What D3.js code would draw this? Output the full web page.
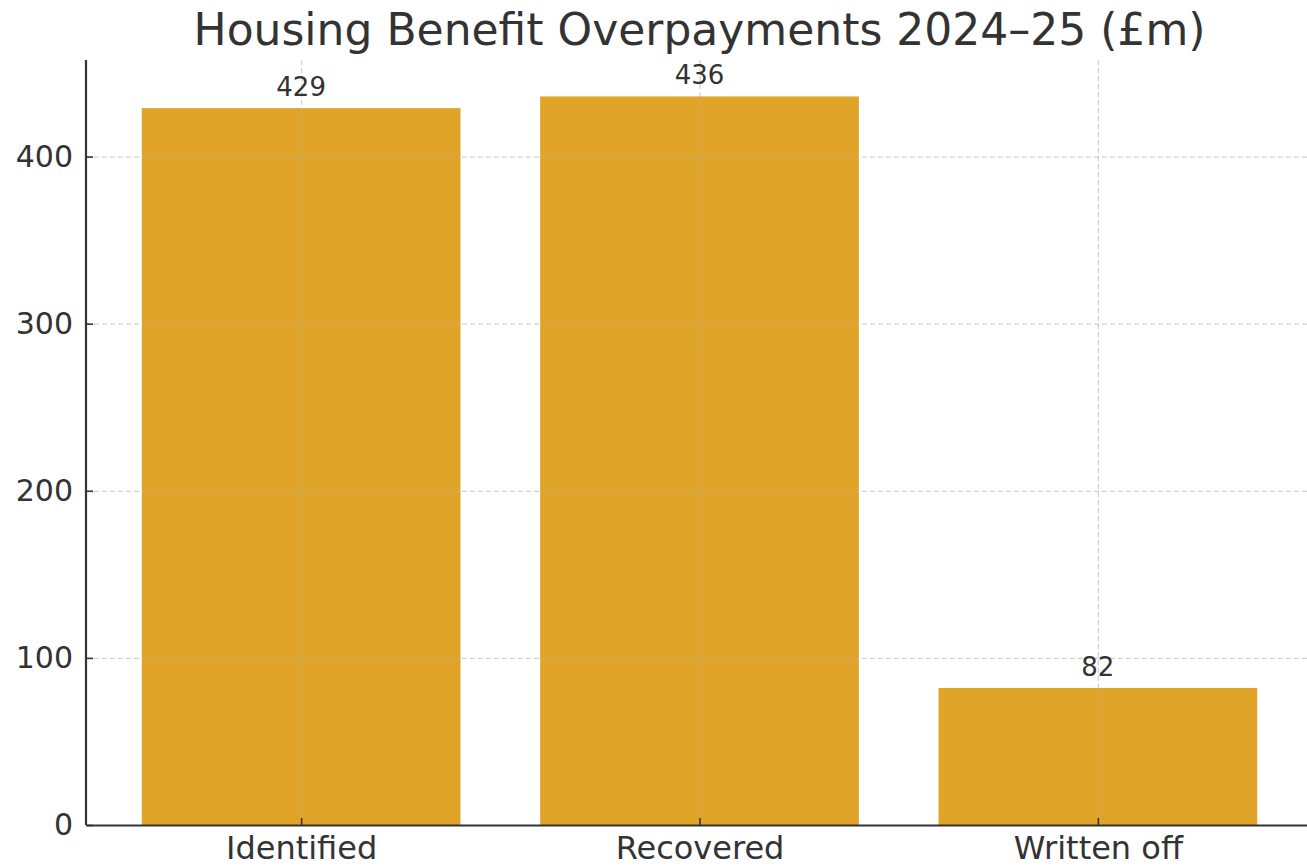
<!DOCTYPE html>
<html>
<head>
<meta charset="utf-8">
<script src="https://cdn.jsdelivr.net/npm/d3@7"></script>
<style>
  body { margin: 0; background: #fff; }
  svg { display: block; font-family: "DejaVu Sans", sans-serif; }
</style>
</head>
<body>
<div id="chart"></div>
<script>
// data
var categories = ["Identified", "Recovered", "Written off"];
var values = [429, 436, 82];
var yTicks = [0, 100, 200, 300, 400];
var title = "Housing Benefit Overpayments 2024\u201325 (\u00a3m)";

var W = 1307, H = 866;
var margin = { top: 60, left: 86, right: -6, bottom: 41 };
var width = W - margin.left - margin.right;   // plot area runs past the right edge
var height = H - margin.top - margin.bottom;

var svg = d3.select("#chart").append("svg")
  .attr("width", W)
  .attr("height", H);

svg.append("text")
  .attr("x", margin.left + width / 2)
  .attr("y", 45)
  .attr("text-anchor", "middle")
  .attr("fill", "#333")
  .style("font-size", "44px")
  .text(title);

var g = svg.append("g")
  .attr("transform", "translate(" + margin.left + "," + margin.top + ")");

// matplotlib-like limits: bars of width 0.8, 5% margins
var xScale = d3.scaleLinear()
  .domain([-0.54, categories.length - 1 + 0.54])
  .range([0, width]);
var yScale = d3.scaleLinear()
  .domain([0, d3.max(values) * 1.05])
  .range([height, 0]);

// bars
g.selectAll("rect.bar")
  .data(values)
  .enter()
  .append("rect")
  .attr("class", "bar")
  .attr("x", function (d, i) { return xScale(i - 0.4); })
  .attr("y", function (d) { return yScale(d); })
  .attr("width", function (d, i) { return xScale(i + 0.4) - xScale(i - 0.4); })
  .attr("height", function (d) { return height - yScale(d); })
  .attr("fill", "#e0a428");

// grid over bars
var yGrid = g.append("g")
  .call(d3.axisLeft(yScale).tickValues(yTicks).tickSize(-width).tickFormat(""));
var xGrid = g.append("g")
  .call(d3.axisBottom(xScale).tickValues(d3.range(categories.length)).tickSize(height).tickFormat(""));
[yGrid, xGrid].forEach(function (s) {
  s.select(".domain").remove();
  s.selectAll("line")
    .attr("stroke", "#b0b0b0")
    .attr("stroke-opacity", 0.6)
    .attr("stroke-width", 1.2)
    .attr("stroke-dasharray", "5,3");
});

// value labels
g.selectAll("text.val")
  .data(values)
  .enter()
  .append("text")
  .attr("class", "val")
  .attr("x", function (d, i) { return xScale(i); })
  .attr("y", function (d) { return yScale(d) - 12; })
  .attr("text-anchor", "middle")
  .attr("fill", "#333")
  .style("font-size", "26px")
  .text(function (d) { return d; });

// axes
var yAxis = g.append("g")
  .call(d3.axisLeft(yScale).tickValues(yTicks).tickSizeInner(-7).tickSizeOuter(0).tickPadding(13));
var xAxis = g.append("g")
  .attr("transform", "translate(0," + height + ")")
  .call(d3.axisBottom(xScale).tickValues(d3.range(categories.length))
    .tickFormat(function (i) { return categories[i]; })
    .tickSizeInner(-7).tickSizeOuter(0).tickPadding(11));

yAxis.select(".domain").attr("d", "M0," + height + "V0");
[yAxis, xAxis].forEach(function (a) {
  a.select(".domain").attr("stroke", "#333").attr("stroke-width", 2.2);
  a.selectAll(".tick line").attr("stroke", "#333").attr("stroke-width", 1.6);
  a.selectAll(".tick text")
    .attr("fill", "#333")
    .style("font-family", "DejaVu Sans, sans-serif");
});
yAxis.selectAll(".tick text").style("font-size", "30px");
xAxis.selectAll(".tick text").style("font-size", "32px").attr("dy", "0.71em");
</script>
</body>
</html>
